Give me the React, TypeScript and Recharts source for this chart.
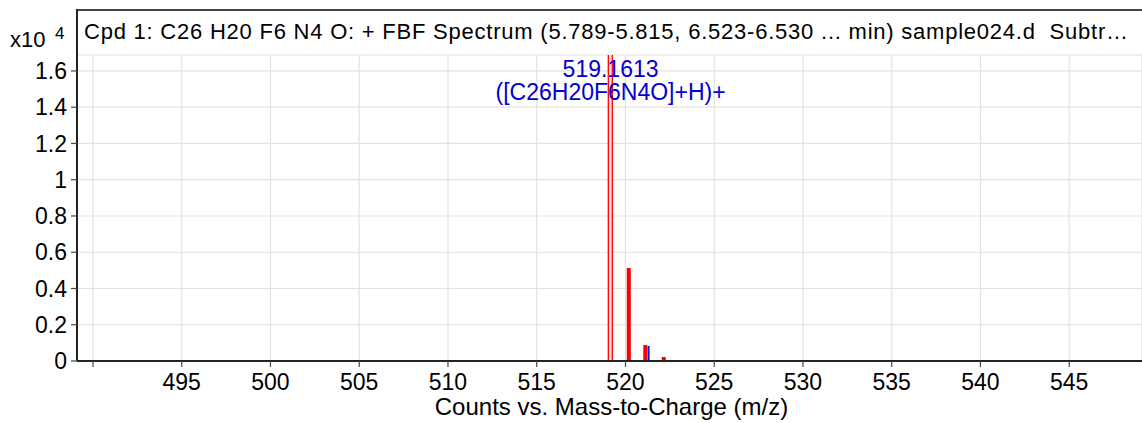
import React from "react";
import {
  ComposedChart,
  Bar,
  Cell,
  XAxis,
  YAxis,
  CartesianGrid,
  ReferenceDot,
  Label,
} from "recharts";

// m/z positions and counts (x10^4)
const mzRed = [519.16, 520.2, 521.13, 522.17];
const redCounts = [1.8, 0.513, 0.088, 0.022];
const mzBlue = [519.16, 520.2, 521.29, 522.17];
const blueCounts = [1.76, 0.5, 0.083, 0.012];

const xTicks = [490, 495, 500, 505, 510, 515, 520, 525, 530, 535, 540, 545];
const yTicks = [0, 0.2, 0.4, 0.6, 0.8, 1, 1.2, 1.4, 1.6];
const xDomain = [489.1, 549.1];
const yDomain = [0, 1.688];

const titleText =
  "Cpd 1: C26 H20 F6 N4 O: + FBF Spectrum (5.789-5.815, 6.523-6.530 ... min) sample024.d\u00A0 Subtr…";
const peakMz = 519.1613;
const peakLabel = ["519.1613", "([C26H20F6N4O]+H)+"];
const xAxisTitle = "Counts vs. Mass-to-Charge (m/z)";

const W = 1142;
const H = 423;
const M = { top: 55, right: 0, bottom: 32, left: 0 };
const Y_AXIS_W = 77;
const X_AXIS_H = 30;
const FONT = "'Liberation Sans', Arial, Helvetica, sans-serif";

const rows = mzRed.map((mz, i) => ({
  mzR: mz,
  red: redCounts[i],
  mzB: mzBlue[i],
  blue: blueCounts[i],
}));

const PeakLabel = (props: any) => {
  const vb = props.viewBox || {};
  const x = vb.x + (vb.width || 0) / 2;
  const y = vb.y + (vb.height || 0) / 2;
  return (
    <g>
      <text x={x} y={y + 6} textAnchor="middle" fill="#0000d0" fontSize={23} fontFamily={FONT}>
        {peakLabel[0]}
      </text>
      <text x={x} y={y + 29} textAnchor="middle" fill="#0000d0" fontSize={23} fontFamily={FONT}>
        {peakLabel[1]}
      </text>
    </g>
  );
};

export default function App() {
  const plotLeft = M.left + Y_AXIS_W;
  return (
    <div
      style={{
        position: "absolute",
        left: 0,
        top: 0,
        width: W,
        height: H,
        background: "#fff",
        overflow: "hidden",
      }}
    >
      <ComposedChart width={W} height={H} data={rows} margin={M}>
        <CartesianGrid stroke="#e2e2e2" strokeWidth={1.2} />
        <XAxis
          dataKey="mzR"
          type="number"
          domain={xDomain}
          ticks={xTicks}
          allowDataOverflow
          height={X_AXIS_H}
          tickSize={6}
          tickMargin={7}
          tickFormatter={(v: number) => (v === 490 ? "" : String(v))}
          tick={{ fill: "#000", fontSize: 23, fontFamily: FONT }}
          tickLine={{ stroke: "#444", strokeWidth: 1.2 }}
          axisLine={{ stroke: "#222", strokeWidth: 2 }}
        >
          <Label
            value={xAxisTitle}
            position="bottom"
            offset={7}
            dx={2}
            style={{ fill: "#000", fontSize: 24, fontFamily: FONT }}
          />
        </XAxis>
        <XAxis xAxisId="b" dataKey="mzB" type="number" domain={xDomain} allowDataOverflow hide />
        <YAxis
          type="number"
          domain={yDomain}
          ticks={yTicks}
          allowDataOverflow
          width={Y_AXIS_W}
          tickSize={6}
          tickMargin={4}
          tickFormatter={(v: number) => String(Number(v.toFixed(1)))}
          tick={{ fill: "#000", fontSize: 23, fontFamily: FONT }}
          tickLine={{ stroke: "#444", strokeWidth: 1.2 }}
          axisLine={{ stroke: "#222", strokeWidth: 2 }}
        />
        <Bar dataKey="blue" xAxisId="b" barSize={2} fill="#0000ff" isAnimationActive={false} />
        <Bar dataKey="red" barSize={4} fill="#ff0000" isAnimationActive={false}>
          {rows.map((r, i) => {
            const over = r.red > yDomain[1];
            return (
              <Cell
                key={i}
                fill={over ? "#ffe0e0" : "#ff0000"}
                stroke={over ? "#ff0000" : "none"}
                strokeWidth={1.3}
              />
            );
          })}
        </Bar>
        <ReferenceDot
          x={peakMz}
          y={1.6}
          r={0}
          fill="none"
          stroke="none"
          label={<PeakLabel />}
        />
      </ComposedChart>
      <svg
        width={W}
        height={H}
        style={{ position: "absolute", left: 0, top: 0, pointerEvents: "none" }}
      >
        <line x1={plotLeft} y1={10} x2={W} y2={10} stroke="#444" strokeWidth={2} />
        <line x1={plotLeft} y1={9} x2={plotLeft} y2={M.top + 1} stroke="#222" strokeWidth={2} />
        <text
          x={84}
          y={38.5}
          fontSize={22}
          fontFamily={FONT}
          fill="#000"
          textLength={1044}
          lengthAdjust="spacing"
        >
          {titleText}
        </text>
        <text x={10} y={47} fontSize={22} fontFamily={FONT} fill="#000">
          x10
        </text>
        <text x={55} y={39} fontSize={17} fontFamily={FONT} fill="#000">
          4
        </text>
      </svg>
    </div>
  );
}
